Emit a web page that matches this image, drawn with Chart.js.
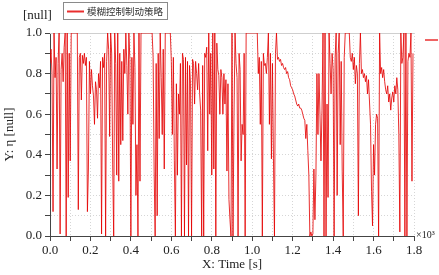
<!DOCTYPE html>
<html>
<head>
<meta charset="utf-8">
<script src="https://cdn.jsdelivr.net/npm/chart.js@4.4.1/dist/chart.umd.min.js"></script>
<style>
  html, body { margin:0; padding:0; background:#fff; }
  #wrap { width:439px; height:275px; position:relative; }
</style>
</head>
<body>
<div id="wrap"><canvas id="line-chart1"></canvas></div>
<script>
// labels
const seriesName = '模糊控制制动策略';
const xTitle = 'X: Time [s]';
const yTitle = 'Y: η [null]';
const yUnit = '[null]';
const xMultiplier = '×10³';

// x ticks (seconds) and their printed labels (in 10^3 s)
const xTickValues = [0, 200, 400, 600, 800, 1000, 1200, 1400, 1600, 1800];
const xTickLabels = ['0.0', '0.2', '0.4', '0.6', '0.8', '1.0', '1.2', '1.4', '1.6', '1.8'];
const yTickValues = [0, 0.2, 0.4, 0.6, 0.8, 1.0];
const yTickLabels = ['0.0', '0.2', '0.4', '0.6', '0.8', '1.0'];

const timeStep = 5;
const eta = [
  0.85,0.92,0.8,0.12,1.0,0.78,0.88,0.33,0.85,1.0,0.01,0.82,0.9,0.76,0.93,1.0,0.0,1.0,0.19,0.9,
  0.37,1.0,1.0,1.0,1.0,1.0,1.0,1.0,0.13,0.88,0.9,0.67,0.89,0.85,0.9,0.84,0.88,0.12,0.33,0.86,
  0.7,0.82,0.74,0.69,0.55,0.76,0.72,0.58,0.8,0.73,0.86,0.01,0.88,0.83,0.9,0.0,0.86,1.0,0.92,0.49,
  1.0,0.9,0.35,0.0,1.0,0.85,0.3,1.0,0.27,0.9,0.45,0.86,0.47,0.92,0.8,1.0,0.84,0.6,1.0,0.87,
  0.0,0.88,0.55,1.0,0.83,0.2,0.45,0.0,1.0,0.27,1.0,1.0,1.0,1.0,1.0,1.0,1.0,1.0,1.0,1.0,
  1.0,1.0,0.88,0.32,0.0,0.85,0.1,0.9,0.48,1.0,0.78,0.5,0.92,0.33,1.0,1.0,1.0,1.0,1.0,1.0,
  0.86,0.5,0.88,0.37,0.0,0.75,0.3,0.7,0.6,0.85,0.0,0.9,0.87,0.0,0.88,0.35,0.86,0.0,0.84,0.75,
  0.0,0.87,0.85,0.65,0.86,0.8,0.72,0.85,0.7,0.62,0.0,0.84,0.0,0.9,0.88,0.93,0.42,1.0,0.6,0.9,
  0.3,1.0,0.33,1.0,0.0,0.95,0.82,0.79,0.6,0.82,0.78,0.6,0.8,0.65,0.77,0.32,0.75,0.18,0.08,0.0,
  1.0,0.0,0.6,1.0,0.85,0.78,0.0,0.9,0.82,0.37,0.55,0.5,0.9,0.0,1.0,1.0,1.0,1.0,1.0,1.0,
  1.0,1.0,1.0,1.0,1.0,1.0,0.8,0.88,0.55,0.86,0.0,0.9,0.84,0.85,0.8,0.88,1.0,0.55,0.9,0.38,
  0.85,0.38,0.0,0.9,1.0,0.87,0.88,0.86,0.87,0.84,0.85,0.83,0.82,0.83,0.8,0.81,0.78,0.77,0.74,0.73,
  0.72,0.7,0.69,0.67,0.65,0.64,0.65,0.63,0.63,0.62,0.6,0.58,0.57,0.48,0.55,0.42,0.3,0.0,0.02,0.0,
  0.01,0.33,0.08,0.3,0.8,0.5,0.8,0.6,0.37,0.62,1.0,0.0,1.0,0.0,0.65,0.19,1.0,0.85,0.7,0.9,
  0.82,0.0,0.88,1.0,0.2,0.9,1.0,0.45,0.86,0.32,0.0,0.88,1.0,1.0,1.0,1.0,1.0,0.88,0.86,0.9,
  0.82,0.88,0.75,0.84,0.8,0.1,0.85,1.0,0.8,0.82,0.78,0.8,0.76,0.79,0.7,0.77,0.66,0.55,0.22,0.05,
  0.45,0.3,0.55,0.6,0.58,0.0,1.0,0.8,0.83,0.78,0.82,0.76,0.72,0.7,0.74,0.66,0.7,0.62,0.68,0.71,
  0.66,0.74,0.7,0.78,0.72,0.5,0.02,1.0,0.85,0.88,1.0,0.0,1.0,0.0,0.86,0.9,0.88,1.0,0.27,0.9
];

const lineRed = 'rgba(228,0,0,0.82)';
const serif = '"Liberation Serif", "Times New Roman", serif';

function tickText(list, labels, v) {
  for (let i = 0; i < list.length; i++) {
    if (Math.abs(list[i] - v) < 1e-6) return labels[i];
  }
  return '';
}

// legend box, unit, multiplier, right marker
const extras = {
  id: 'extras',
  beforeDatasetsDraw(chart) {
    const {ctx, chartArea: a} = chart;
    ctx.save();
    ctx.strokeStyle = '#cfcfcf';
    ctx.lineWidth = 1;
    ctx.beginPath();
    ctx.moveTo(a.left, a.top + 0.5);
    ctx.lineTo(a.right, a.top + 0.5);
    ctx.stroke();
    ctx.restore();
  },
  afterDraw(chart) {
    const {ctx, chartArea: a} = chart;
    ctx.save();
    // legend
    ctx.fillStyle = '#fff';
    ctx.fillRect(63, 2, 104, 17);
    ctx.strokeStyle = '#8a8a8a';
    ctx.lineWidth = 1;
    ctx.strokeRect(63.5, 2.5, 104, 17);
    ctx.strokeStyle = lineRed;
    ctx.lineWidth = 2;
    ctx.beginPath();
    ctx.moveTo(67, 11.5);
    ctx.lineTo(84, 11.5);
    ctx.stroke();
    ctx.fillStyle = '#333';
    ctx.font = '9.5px "Noto Sans CJK SC"';
    ctx.textBaseline = 'middle';
    ctx.textAlign = 'left';
    ctx.fillText(seriesName, 87, 11.5);
    // unit above the y axis
    ctx.font = '13px ' + serif;
    ctx.fillStyle = '#222';
    ctx.fillText(yUnit, 23, 16);
    // x multiplier
    ctx.font = '10px ' + serif;
    ctx.fillText(xMultiplier, a.right + 2, a.bottom - 1);
    // marker at right
    ctx.strokeStyle = lineRed;
    ctx.lineWidth = 1.5;
    ctx.beginPath();
    ctx.moveTo(a.right + 11, 40);
    ctx.lineTo(a.right + 24, 40);
    ctx.stroke();
    ctx.restore();
  }
};

const points = eta.map((v, i) => ({x: i * timeStep, y: v}));

const myLineChart1 = new Chart(document.getElementById('line-chart1'), {
  type: 'line',
  data: {
    datasets: [{
      label: seriesName,
      data: points,
      borderColor: lineRed,
      borderWidth: 1,
      pointRadius: 0,
      tension: 0,
      fill: false
    }]
  },
  options: {
    responsive: true,
    maintainAspectRatio: false,
    animation: false,
    devicePixelRatio: 1,
    layout: { padding: { top: 33, right: 25, left: 0, bottom: 0 } },
    plugins: { legend: { display: false }, tooltip: { enabled: false } },
    scales: {
      x: {
        type: 'linear',
        min: 0,
        max: 1800,
        afterFit: s => { s.height = 39; },
        ticks: {
          stepSize: 100,
          autoSkip: false,
          maxRotation: 0,
          padding: 2,
          color: '#222',
          font: { family: serif, size: 13 },
          callback: v => tickText(xTickValues, xTickLabels, v)
        },
        grid: { color: '#d6d6d6', tickLength: 5, tickColor: '#444' },
        border: { color: '#444', width: 1, dash: [1, 2] },
        title: {
          display: true,
          text: xTitle,
          color: '#222',
          font: { family: serif, size: 13 },
          padding: { top: 0, bottom: 3 }
        }
      },
      y: {
        min: 0,
        max: 1,
        afterFit: s => { s.width = 50; },
        ticks: {
          stepSize: 0.1,
          autoSkip: false,
          padding: 3,
          color: '#222',
          font: { family: serif, size: 13 },
          callback: v => tickText(yTickValues, yTickLabels, v)
        },
        grid: { color: '#d6d6d6', tickLength: 5, tickColor: '#444' },
        border: { color: '#444', width: 1, dash: [1, 2] },
        title: {
          display: true,
          text: yTitle,
          color: '#222',
          font: { family: serif, size: 13 },
          padding: { top: 2, bottom: 0 }
        }
      }
    }
  },
  plugins: [extras]
});
</script>
</body>
</html>
